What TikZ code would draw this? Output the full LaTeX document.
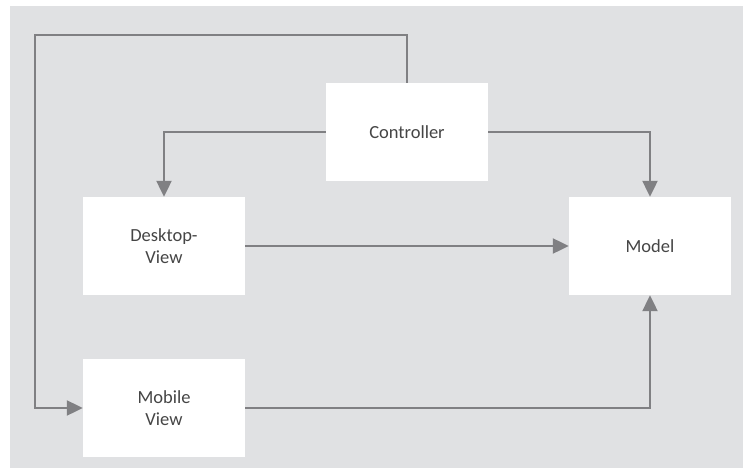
\documentclass[tikz,border=0pt]{standalone}
\usepackage{fontspec}
\setmainfont{Carlito}
\usetikzlibrary{arrows.meta}
\definecolor{bgc}{HTML}{E0E1E3}
\definecolor{linec}{HTML}{808083}
\definecolor{txtc}{HTML}{454545}
\tikzset{
  box/.style={fill=white, draw=none, minimum width=162pt, minimum height=98pt, inner sep=0pt,
    font=\fontsize{18.5}{22}\selectfont, text=txtc, align=center},
  conn/.style={draw=linec, line width=2.2pt, -{Triangle[length=16pt,width=15pt]}},
  plain/.style={draw=linec, line width=2.2pt}
}
\begin{document}
\begin{tikzpicture}[x=1pt,y=-1pt]
\useasboundingbox (0,0) rectangle (743,468);
\fill[bgc] (10,6) rectangle (743,468);
\node[box] (ctrl) at (407,132) {Controller};
\node[box] (desk) at (164,246) {Desktop-\\View};
\node[box] (model) at (650,246) {Model};
\node[box] (mob) at (164,408) {Mobile\\View};
\coordinate (tl) at (35,35);
\draw[conn] (ctrl.north) |- (tl) |- (mob.west);
\draw[conn] (ctrl.west) -| (desk.north);
\draw[conn] (ctrl.east) -| (model.north);
\draw[conn] (desk.east) -- (model.west);
\draw[conn] (mob.east) -| (model.south);
\end{tikzpicture}
\end{document}
